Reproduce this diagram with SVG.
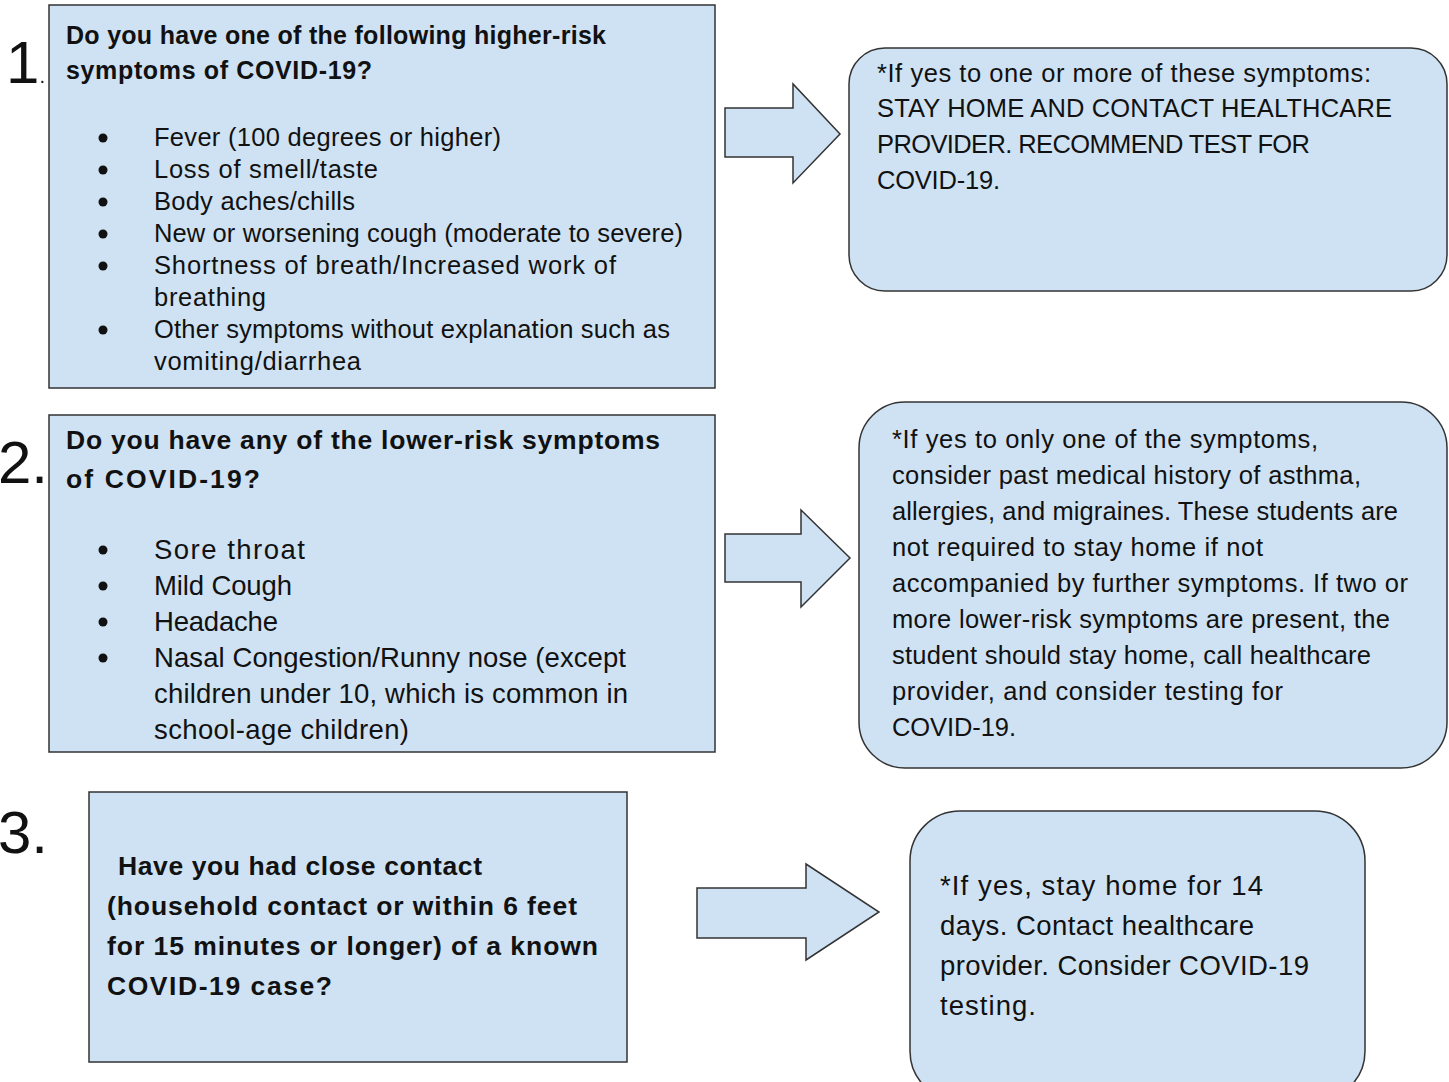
<svg xmlns="http://www.w3.org/2000/svg" width="1449" height="1082" viewBox="0 0 1449 1082">
<style>
.box{fill:#cfe2f3;stroke:#333;stroke-width:1.5}
.arr{fill:#cfe2f3;stroke:#333;stroke-width:1.5;stroke-linejoin:miter}
text{font-family:"Liberation Sans",Arial,sans-serif;fill:#111}
.t{font-size:25.5px}
.tb{font-size:25px;font-weight:bold}
.t2{font-size:27.5px}
.tb2{font-size:26.5px;font-weight:bold}
.num{font-size:60px;font-family:"Liberation Sans Narrow","Liberation Sans",sans-serif}
.bul{fill:#111}
</style>
<rect width="1449" height="1082" fill="#fff"/>
<g id="labels">
<text class="num" x="6" y="83">1<tspan font-size="20">.</tspan></text>
<text class="num" x="-2" y="483">2.</text>
<text class="num" x="-2" y="853">3.</text>
</g>
<g id="connectors">
<polygon class="arr" points="725,108 793,108 793,84 840,134 793,183 793,157 725,157"/>
<polygon class="arr" points="725,534 801,534 801,510 850,558 801,607 801,582 725,582"/>
<polygon class="arr" points="697,888 806,888 806,864 879,912 806,960 806,938 697,938"/>
</g>
<g id="q1">
<rect class="box" x="49" y="5" width="666" height="383"/>
<text class="tb" x="66" y="44" textLength="540">Do you have one of the following higher-risk</text>
<text class="tb" x="66" y="79" textLength="306">symptoms of COVID-19?</text>
<g class="bul"><circle cx="103" cy="138" r="4.5"/><circle cx="103" cy="170" r="4.5"/><circle cx="103" cy="202" r="4.5"/><circle cx="103" cy="234" r="4.5"/><circle cx="103" cy="266" r="4.5"/><circle cx="103" cy="330" r="4.5"/></g>
<text class="t" x="154" y="146" textLength="347">Fever (100 degrees or higher)</text>
<text class="t" x="154" y="178" textLength="224">Loss of smell/taste</text>
<text class="t" x="154" y="210" textLength="201">Body aches/chills</text>
<text class="t" x="154" y="242" textLength="529">New or worsening cough (moderate to severe)</text>
<text class="t" x="154" y="274" textLength="462">Shortness of breath/Increased work of</text>
<text class="t" x="154" y="306" textLength="112">breathing</text>
<text class="t" x="154" y="338" textLength="516">Other symptoms without explanation such as</text>
<text class="t" x="154" y="370" textLength="207">vomiting/diarrhea</text>
</g>
<g id="a1">
<rect class="box" x="849" y="48" width="598" height="243" rx="36" ry="36"/>
<text class="t" x="877" y="82" textLength="494">*If yes to one or more of these symptoms:</text>
<text class="t" x="877" y="117" textLength="515">STAY HOME AND CONTACT HEALTHCARE</text>
<text class="t" x="877" y="153" textLength="433">PROVIDER. RECOMMEND TEST FOR</text>
<text class="t" x="877" y="189" textLength="123">COVID-19.</text>
</g>
<g id="q2">
<rect class="box" x="49" y="415" width="666" height="337"/>
<text class="tb2" x="66" y="449" textLength="594">Do you have any of the lower-risk symptoms</text>
<text class="tb2" x="66" y="488" textLength="194">of COVID-19?</text>
<g class="bul"><circle cx="103" cy="550" r="4.5"/><circle cx="103" cy="586" r="4.5"/><circle cx="103" cy="622" r="4.5"/><circle cx="103" cy="658" r="4.5"/></g>
<text class="t2" x="154" y="559" textLength="151">Sore throat</text>
<text class="t2" x="154" y="595" textLength="138">Mild Cough</text>
<text class="t2" x="154" y="631" textLength="124">Headache</text>
<text class="t2" x="154" y="667" textLength="472">Nasal Congestion/Runny nose (except</text>
<text class="t2" x="154" y="703" textLength="474">children under 10, which is common in</text>
<text class="t2" x="154" y="739" textLength="255">school-age children)</text>
</g>
<g id="a2">
<rect class="box" x="859" y="402" width="588" height="366" rx="46" ry="46"/>
<text class="t" x="892" y="448" textLength="426">*If yes to only one of the symptoms,</text>
<text class="t" x="892" y="484" textLength="469">consider past medical history of asthma,</text>
<text class="t" x="892" y="520" textLength="506">allergies, and migraines. These students are</text>
<text class="t" x="892" y="556" textLength="371">not required to stay home if not</text>
<text class="t" x="892" y="592" textLength="516">accompanied by further symptoms. If two or</text>
<text class="t" x="892" y="628" textLength="498">more lower-risk symptoms are present, the</text>
<text class="t" x="892" y="664" textLength="479">student should stay home, call healthcare</text>
<text class="t" x="892" y="700" textLength="391">provider, and consider testing for</text>
<text class="t" x="892" y="736" textLength="124">COVID-19.</text>
</g>
<g id="q3">
<rect class="box" x="89" y="792" width="538" height="270"/>
<text class="tb2" x="118" y="875" textLength="364">Have you had close contact</text>
<text class="tb2" x="107" y="915" textLength="470">(household contact or within 6 feet</text>
<text class="tb2" x="107" y="955" textLength="491">for 15 minutes or longer) of a known</text>
<text class="tb2" x="107" y="995" textLength="225">COVID-19 case?</text>
</g>
<g id="a3">
<rect class="box" x="910" y="811" width="455" height="290" rx="50" ry="50"/>
<text class="t2" x="940" y="895" textLength="323">*If yes, stay home for 14</text>
<text class="t2" x="940" y="935" textLength="314">days. Contact healthcare</text>
<text class="t2" x="940" y="975" textLength="369">provider. Consider COVID-19</text>
<text class="t2" x="940" y="1015" textLength="96">testing.</text>
</g>
</svg>
